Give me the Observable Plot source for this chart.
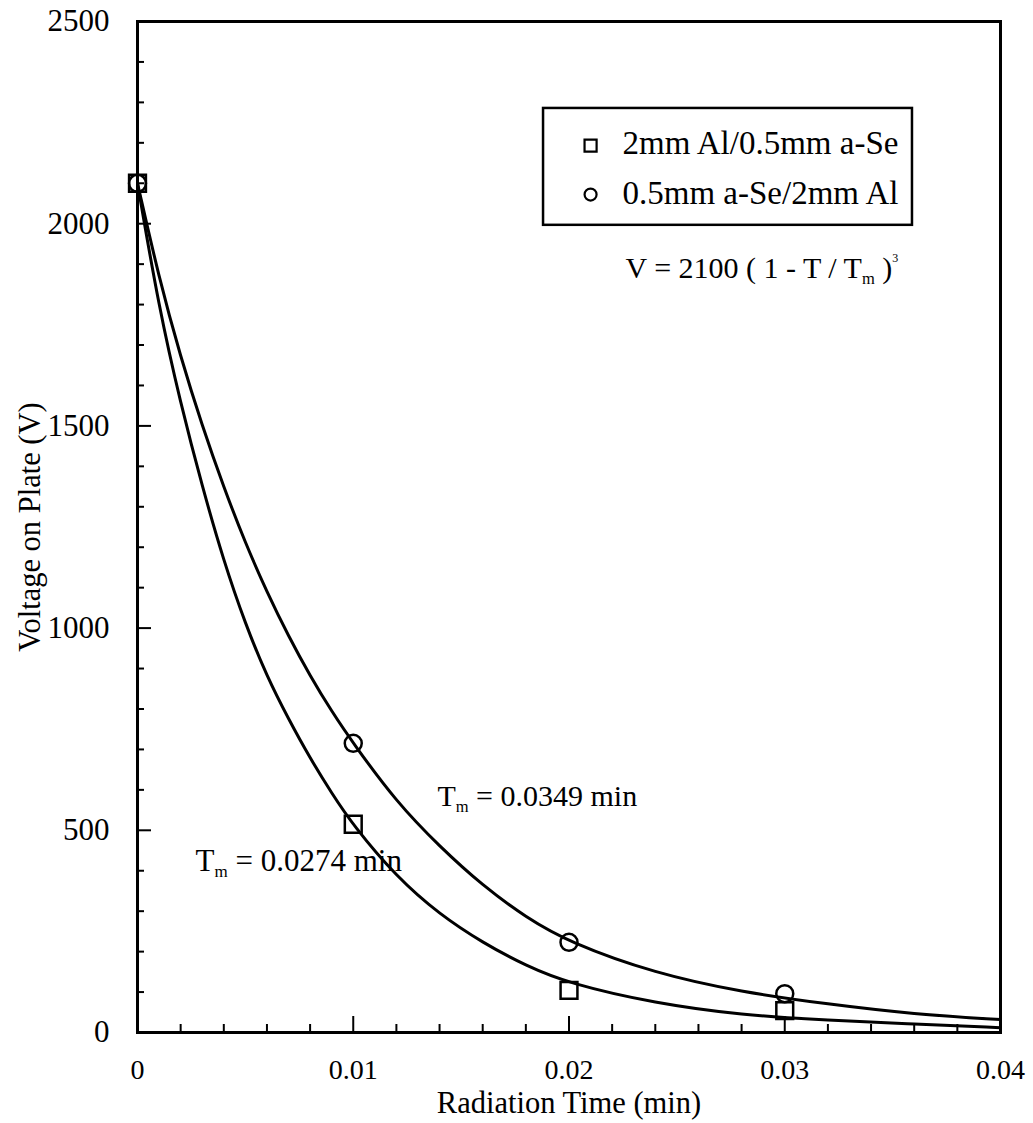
<!DOCTYPE html>
<html>
<head>
<meta charset="utf-8">
<script src="https://cdn.jsdelivr.net/npm/d3@7"></script>
<script src="https://cdn.jsdelivr.net/npm/@observablehq/plot@0.6"></script>
<style>
  html, body { margin: 0; padding: 0; background: #fff; }
  #chart svg { display: block; }
</style>
</head>
<body>
<div id="chart"></div>
<script>
// Measured plate voltage (V) against radiation time (min)
const timeMeasured = [0, 0.01, 0.02, 0.03];
const voltAlSe = [2100, 515, 104, 54];   // 2mm Al/0.5mm a-Se
const voltSeAl = [2100, 715, 223, 96];   // 0.5mm a-Se/2mm Al

// Fitted discharge curve, Tm = 0.0274 min
const fitTimeA = [0, 0.001, 0.002, 0.003, 0.004, 0.005, 0.006, 0.007, 0.008, 0.009, 0.01, 0.012, 0.014, 0.016, 0.018, 0.02, 0.024, 0.028, 0.032, 0.036, 0.04];
const fitVoltA = [2100, 1790, 1555, 1350, 1165, 1010, 880, 775, 678, 592, 512, 385, 292, 222, 165, 121, 72, 43, 30, 21, 12];

// Fitted discharge curve, Tm = 0.0349 min
const fitTimeB = [0, 0.001, 0.002, 0.003, 0.004, 0.005, 0.006, 0.007, 0.008, 0.009, 0.01, 0.012, 0.014, 0.016, 0.018, 0.02, 0.024, 0.028, 0.032, 0.036, 0.04];
const fitVoltB = [2100, 1865, 1670, 1500, 1348, 1210, 1089, 980, 882, 794, 715, 570, 460, 363, 285, 223, 146, 100, 70, 45, 32];

// Axis ticks
const xTicks = [0, 0.01, 0.02, 0.03, 0.04];
const xTickLabels = ["0", "0.01", "0.02", "0.03", "0.04"];
const xMinorTicks = [0.002, 0.004, 0.006, 0.008, 0.012, 0.014, 0.016, 0.018, 0.022, 0.024, 0.026, 0.028, 0.032, 0.034, 0.036, 0.038];
const yTicks = [0, 500, 1000, 1500, 2000, 2500];
const yTickLabels = ["0", "500", "1000", "1500", "2000", "2500"];
const yMinorTicks = [100, 200, 300, 400, 600, 700, 800, 900, 1100, 1200, 1300, 1400, 1600, 1700, 1800, 1900, 2100, 2200, 2300, 2400];

const seriesNames = ["2mm Al/0.5mm a-Se", "0.5mm a-Se/2mm Al"];
const fitLabels = ["T_m = 0.0274 min", "T_m = 0.0349 min"];
const formula = "V = 2100 ( 1 - T / T_m )^3";
const xTitle = "Radiation Time (min)";
const yTitle = "Voltage on Plate (V)";

const pointsAlSe = timeMeasured.map((t, i) => ({t, v: voltAlSe[i]}));
const pointsSeAl = timeMeasured.map((t, i) => ({t, v: voltSeAl[i]}));
const curveA = fitTimeA.map((t, i) => ({t, v: fitVoltA[i]}));
const curveB = fitTimeB.map((t, i) => ({t, v: fitVoltB[i]}));

const serif = "'Liberation Serif', 'Times New Roman', Times, serif";
const ink = "#000";
const txt = {fontFamily: serif, fill: ink};

const chart = Plot.plot({
  width: 1033,
  height: 1123,
  marginLeft: 137,
  marginRight: 33,
  marginTop: 21,
  marginBottom: 91,
  style: {fontFamily: serif, background: "#fff", color: ink},
  x: {domain: [0, 0.04]},
  y: {domain: [0, 2500]},
  marks: [
    // inward-pointing ticks
    Plot.axisX(xMinorTicks, {tickSize: -8, fill: "none", strokeWidth: 2, label: null}),
    Plot.axisX(xTicks, {tickSize: -16, fill: "none", strokeWidth: 2, label: null}),
    Plot.axisY(yMinorTicks, {tickSize: -7, fill: "none", strokeWidth: 2, label: null}),
    Plot.axisY(yTicks, {tickSize: -14, fill: "none", strokeWidth: 2, label: null}),
    // tick labels
    Plot.axisX(xTicks, {tickSize: 0, tickPadding: 27, fontSize: 28, ...txt, label: null,
      tickFormat: d => xTickLabels[xTicks.indexOf(d)]}),
    Plot.axisY(yTicks, {tickSize: 0, tickPadding: 28, fontSize: 31, ...txt, label: null,
      tickFormat: d => yTickLabels[yTicks.indexOf(d)]}),
    // axis titles
    Plot.text([xTitle], {frameAnchor: "bottom", textAnchor: "middle", lineAnchor: "middle", dy: 71, fontSize: 30.5, ...txt}),
    Plot.text([yTitle], {frameAnchor: "left", textAnchor: "middle", lineAnchor: "middle", dx: -107, rotate: -90, fontSize: 30.5, ...txt}),
    // fitted curves
    Plot.line(curveA, {x: "t", y: "v", curve: "basis", stroke: ink, strokeWidth: 3}),
    Plot.line(curveB, {x: "t", y: "v", curve: "basis", stroke: ink, strokeWidth: 3}),
    // measurements
    Plot.dot(pointsAlSe, {x: "t", y: "v", symbol: "square", r: 9.5, stroke: ink, strokeWidth: 2.5, fill: "none"}),
    Plot.dot(pointsSeAl, {x: "t", y: "v", symbol: "circle", r: 8.5, stroke: ink, strokeWidth: 2.5, fill: "none"}),
    // curve annotations
    Plot.text([fitLabels[0]], {x: 0.00269, y: 425, textAnchor: "start", fontSize: 31, ...txt}),
    Plot.text([fitLabels[1]], {x: 0.0139, y: 584, textAnchor: "start", fontSize: 30, ...txt}),
    Plot.text([formula], {x: 0.02262, y: 1889, textAnchor: "start", fontSize: 30, ...txt}),
    // legend
    Plot.rect([{}], {x1: 0.01882, x2: 0.03592, y1: 1996, y2: 2285, fill: "#fff", stroke: ink, strokeWidth: 2.5}),
    Plot.dot([{}], {x: 0.021, y: 2193, symbol: "square", r: 6.8, stroke: ink, strokeWidth: 2.2, fill: "none"}),
    Plot.dot([{}], {x: 0.021, y: 2072, symbol: "circle", r: 6, stroke: ink, strokeWidth: 2.2, fill: "none"}),
    Plot.text([seriesNames[0]], {x: 0.02248, y: 2198, textAnchor: "start", fontSize: 33, ...txt}),
    Plot.text([seriesNames[1]], {x: 0.02248, y: 2076, textAnchor: "start", fontSize: 33, ...txt}),
    Plot.frame({stroke: ink, strokeWidth: 3})
  ]
});

// Render "_m" as a subscript and "^3" as a superscript
d3.select(chart).selectAll("text").each(function () {
  const s = this.textContent;
  if (!/_m|\^3/.test(s)) return;
  const parts = s.split(/(_m|\^3)/).filter(p => p !== "");
  const node = d3.select(this);
  node.text(null);
  for (const p of parts) {
    if (p === "_m") {
      node.append("tspan").attr("font-size", "0.55em").attr("baseline-shift", "-0.35em").text("m");
    } else if (p === "^3") {
      node.append("tspan").attr("font-size", "0.4em").attr("baseline-shift", "1.3em").text("3");
    } else {
      node.append("tspan").text(p);
    }
  }
});

document.getElementById("chart").appendChild(chart);
</script>
</body>
</html>
